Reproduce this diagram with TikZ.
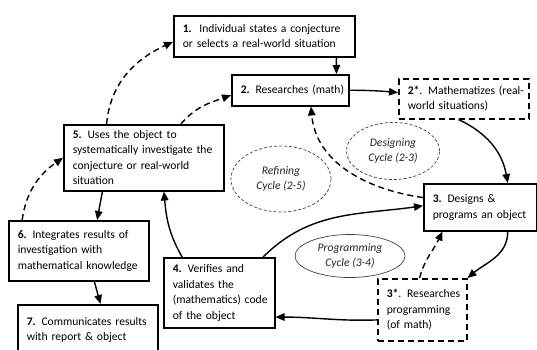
\documentclass[tikz,border=0pt]{standalone}
\usepackage{fontspec}
\setmainfont{Carlito}
\usetikzlibrary{arrows.meta,calc,shapes.geometric}
\begin{document}
\begin{tikzpicture}[x=1pt,y=-1pt,
  box/.style={draw, line width=1.5pt, anchor=north west, align=left, inner xsep=9pt, inner ysep=0pt, font=\fontsize{11.6}{15.5}\selectfont},
  dbox/.style={box, dash pattern=on 6pt off 4pt},
  cyc/.style={ellipse, draw=black!75, line width=0.7pt, dash pattern=on 3pt off 2pt, inner sep=0pt, align=center, font=\fontsize{11.6}{15}\selectfont\itshape, text=black!85},
  arr/.style={line width=1.4pt, -{Triangle[length=9pt,width=7.5pt]}},
  darr/.style={arr, dash pattern=on 6pt off 4pt}]
\useasboundingbox (0,0) rectangle (537,349);
\clip (0,0) rectangle (537,349);
% boxes
\node[box, text width=163pt, minimum height=41pt] (b1) at (173,15) {\mbox{\textbf{1.}\, Individual states a conjecture}\\\mbox{or selects a real-world situation}};
\node[box, text width=99pt, minimum height=31pt] (b2) at (231,74) {\mbox{\textbf{2.} Researches (math)}};
\node[dbox, text width=112pt, minimum height=40pt] (b2s) at (398,78) {\mbox{\textbf{2*}. Mathematizes (real-}\\\mbox{world situations)}};
\node[box, text width=142pt, minimum height=66pt] (b5) at (63,124) {\mbox{\textbf{5.} Uses the object to}\\\mbox{systematically investigate the}\\\mbox{conjecture or real-world}\\\mbox{situation}};
\node[box, text width=95pt, minimum height=47pt] (b3) at (423,183) {\mbox{\textbf{3.} Designs \&}\\\mbox{programs an object}};
\node[box, text width=122pt, minimum height=60pt] (b6) at (8,220) {\mbox{\textbf{6.} Integrates results of}\\\mbox{investigation with}\\\mbox{mathematical knowledge}};
\node[box, text width=93pt, minimum height=70pt] (b4) at (163,257) {\mbox{\textbf{4.} Verifies and}\\\mbox{validates the}\\\mbox{(mathematics) code}\\\mbox{of the object}};
\node[dbox, text width=71pt, minimum height=62pt] (b3s) at (377,278) {\mbox{\textbf{3*}. Researches}\\\mbox{programming}\\\mbox{(of math)}};
\node[box, text width=122pt, minimum height=50pt] (b7) at (17,304) {\mbox{\textbf{7.} Communicates results}\\\mbox{with report \& object}};
% cycles
\node[cyc, minimum width=100pt, minimum height=66pt] (rc) at (281,179) {Refining\\Cycle (2-5)};
\node[cyc, minimum width=93pt, minimum height=57pt] (dc) at (393,151) {Designing\\Cycle (2-3)};
\node[cyc, solid, minimum width=110pt, minimum height=43pt] (pc) at (350,256) {Programming\\Cycle (3-4)};
% solid arrows
\draw[arr] ($(b1.south west)!0.895!(b1.south east)$) -- ($(b2.north west)!0.89!(b2.north east)$);
\draw[arr] (b2.east) to[out=0,in=175] ($(b2s.north west)!0.35!(b2s.south west)$);
\draw[arr] ($(b2s.south west)!0.46!(b2s.south east)$) to[out=-25,in=100] ($(b3.north west)!0.74!(b3.north east)$);
\draw[arr] ($(b3.south west)!0.74!(b3.south east)$) to[out=-90,in=40] (b3s.north east);
\draw[arr] ($(b3s.north west)!0.66!(b3s.south west)$) to[out=182,in=0] ($(b4.north east)!0.84!(b4.south east)$);
\draw[arr] ($(b4.north west)!0.89!(b4.north east)$) to[out=45,in=188] ($(b3.north west)!0.47!(b3.south west)$);
\draw[arr] ($(b4.north west)!0.17!(b4.north east)$) to[out=120,in=-85] ($(b5.south west)!0.625!(b5.south east)$);
\draw[arr] ($(b5.south west)!0.244!(b5.south east)$) -- ($(b6.north west)!0.63!(b6.north east)$);
\draw[arr] ($(b6.south west)!0.61!(b6.south east)$) -- ($(b7.north west)!0.59!(b7.north east)$);
% dashed arrows
\draw[darr] ($(b3s.north west)!0.47!(b3s.north east)$) to[out=75,in=-115] ($(b3.south west)!0.17!(b3.south east)$);
\draw[darr] ($(b5.north west)!0.27!(b5.north east)$) to[out=85,in=205] ($(b1.north west)!0.63!(b1.south west)$);
\draw[darr] ($(b5.north west)!0.73!(b5.north east)$) to[out=50,in=200] ($(b2.north west)!0.65!(b2.south west)$);
\draw[darr] ($(b6.north west)!0.1!(b6.north east)$) to[out=82,in=215] ($(b5.north west)!0.5!(b5.south west)$);
\draw[darr] ($(b3.north west)!0.3!(b3.south west)$) to[out=172,in=-85] ($(b2.south west)!0.675!(b2.south east)$);
\end{tikzpicture}
\end{document}
